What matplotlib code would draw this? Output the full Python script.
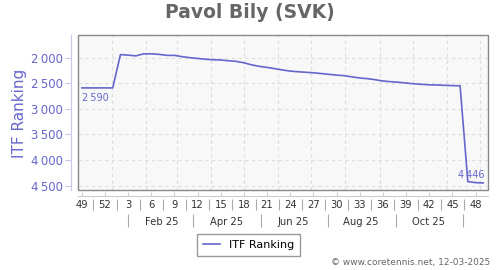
import matplotlib
matplotlib.use("Agg")
import matplotlib.pyplot as plt
import matplotlib.dates as mdates
from matplotlib.patches import Rectangle
from matplotlib.ticker import FuncFormatter
from datetime import date, timedelta

# weekly ITF ranking, first week = ISO week 49 of 2024
first_week = date(2024, 12, 5)
ranking = [2590, 2590, 2590, 2590, 2590, 1940, 1950, 1965, 1925, 1925,
           1935, 1955, 1955, 1980, 2000, 2015, 2030, 2040, 2045, 2060,
           2072, 2100, 2140, 2170, 2190, 2215, 2240, 2262, 2275, 2285,
           2295, 2310, 2325, 2340, 2352, 2375, 2397, 2410, 2430, 2455,
           2469, 2480, 2495, 2510, 2520, 2530, 2534, 2540, 2545, 2550,
           4420, 4440, 4446]
title = "Pavol Bily (SVK)"
series_name = "ITF Ranking"
month_labels = ["Feb 25", "Apr 25", "Jun 25", "Aug 25", "Oct 25"]
y_ticks = [2000, 2500, 3000, 3500, 4000, 4500]
credit = "\u00a9 www.coretennis.net, 12-03-2025"

blue = "#6666cc"


def fmt(v):
    return f"{int(v):,}".replace(",", "\u2009")


dates = [first_week + timedelta(weeks=i) for i in range(len(ranking))]
x = mdates.date2num(dates)

fig = plt.figure(figsize=(5, 2.7), dpi=100)
ax = fig.add_axes([78 / 500, 80 / 270, 410 / 500, 155 / 270])
ax.set_facecolor("#f8f8f8")

ax.plot(x, ranking, color=blue, lw=1.2, label=series_name, zorder=3)

ax.set_xlim(mdates.date2num(date(2024, 12, 1)) + 0.5, mdates.date2num(date(2025, 12, 8)) + 0.3)
ax.set_ylim(4584, 1557)

# frame
for s in ["top", "right"]:
    ax.spines[s].set_visible(False)
ax.add_patch(Rectangle((0, 0), 1, 1, transform=ax.transAxes, fill=False,
                       edgecolor="#888888", lw=1, clip_on=False, zorder=4))
ax.spines["left"].set_position(("outward", 5))
ax.spines["left"].set_color("#c8c8e8")
ax.spines["bottom"].set_position(("outward", 4))
ax.spines["bottom"].set_color("#cccccc")

# y axis
ax.set_yticks(y_ticks)
ax.yaxis.set_major_formatter(FuncFormatter(lambda v, p: fmt(v)))
ax.tick_params(axis="y", length=4, color="#c8c8e8", labelcolor=blue,
               labelsize=8.5, pad=2)
ax.grid(axis="y", color="#dddddd", linestyle=(0, (3, 3)), lw=0.8)

# month grid lines
months = [date(2025, m, 1) for m in range(1, 13)]
for m in months:
    ax.axvline(mdates.date2num(m), color="#dddddd", linestyle=(0, (3, 3)),
               lw=0.8, zorder=1)

# week ticks on the bottom line
week_pos = x[::3]
week_lab = [str(d.isocalendar()[1]) for d in dates[::3]]
ax.set_xticks(week_pos)
ax.tick_params(axis="x", direction="in", length=3, color="#cccccc",
               labelbottom=False)

sec_w = ax.secondary_xaxis(-9 / 155)
sec_w.set_xticks(week_pos, week_lab)
sec_w.set_xticks((week_pos[:-1] + week_pos[1:]) / 2, minor=True)
sec_w.spines["bottom"].set_visible(False)
sec_w.tick_params(which="major", length=0, pad=1, labelsize=7.2, labelcolor="#333333")
sec_w.tick_params(which="minor", length=8, width=0.8, color="#aaaaaa")

# month row
sec_m = ax.secondary_xaxis(-24 / 155)
month_pos = [mdates.date2num(date(2025, m, 15)) for m in range(2, 11, 2)]
sep_pos = [mdates.date2num(date(2025, m, 16)) for m in range(1, 12, 2)]
sec_m.set_xticks(month_pos, month_labels)
sec_m.set_xticks(sep_pos, minor=True)
sec_m.spines["bottom"].set_visible(False)
sec_m.tick_params(which="major", length=0, pad=2, labelsize=7.2, labelcolor="#333333")
sec_m.tick_params(which="minor", length=9, width=0.8, color="#aaaaaa")

# first / last values
ax.annotate(fmt(ranking[0]), (x[0], ranking[0]), xytext=(0, -4),
            textcoords="offset points", ha="left", va="top", fontsize=7, color=blue)
ax.annotate(fmt(ranking[-1]), (x[-1], ranking[-1]), xytext=(1, 2),
            textcoords="offset points", ha="right", va="bottom", fontsize=7, color=blue)

fig.text(0.5, 1 - 13 / 270, title, ha="center", va="center", fontsize=13.5,
         fontweight="bold", color="#666666")
fig.text(20 / 500, 1 - 113 / 270, "ITF Ranking", rotation=90, ha="center",
         va="center", fontsize=11, color=blue)

fig.legend(loc="center", bbox_to_anchor=(0.497, 0.094), fontsize=8,
           frameon=True, fancybox=False, edgecolor="#999999", framealpha=1,
           handlelength=1.5, borderpad=0.55)

fig.text(490 / 500, 1 - 262 / 270, credit, ha="right", va="center",
         fontsize=6.5, color="#666666")

fig.savefig("out.png", dpi=100)
